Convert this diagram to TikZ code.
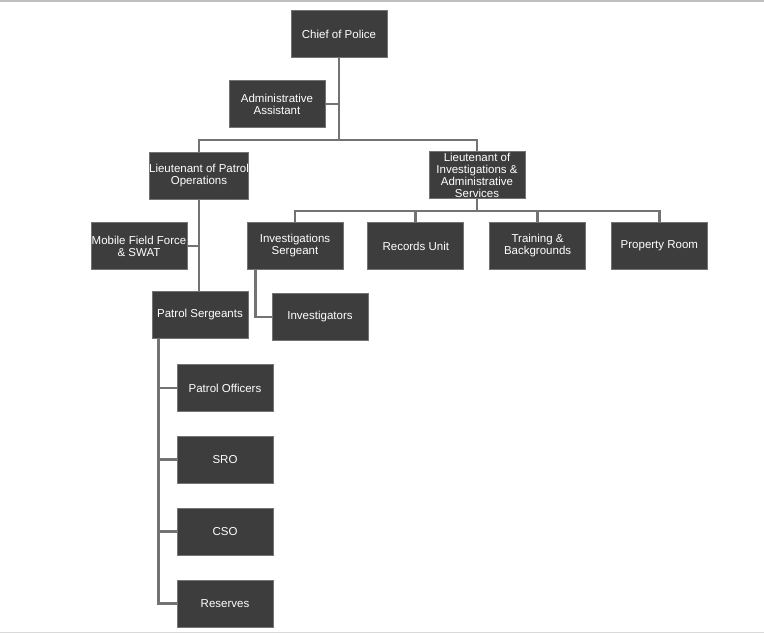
\documentclass[tikz,border=0pt]{standalone}
\usepackage{fontspec}
\setmainfont{Liberation Sans}
\usetikzlibrary{positioning}

\begin{document}
\begin{tikzpicture}[x=1pt, y=-1pt,
    every node/.style={font=\fontsize{11.5}{12}\selectfont},
    box/.style={draw=black!55, line width=0.8pt, fill=black!76, text=white,
                minimum width=96pt, minimum height=47pt, inner sep=0pt,
                align=center},
    link/.style={draw=black!55, line width=2.8pt}
  ]
  \useasboundingbox (0,0) rectangle (764,634);
  \draw[black!25, line width=1.5pt] (0,1) -- (764,1);
  \draw[black!15, line width=1pt] (0,632.5) -- (764,632.5);

  \node[box] (chief) at (339,34)  {Chief of Police};
  \node[box] (admin) at (277,104) {Administrative\\Assistant};
  \node[box] (ltp)   at (199,176) {Lieutenant of Patrol\\Operations};
  \node[box] (lti)   at (477,175) {Lieutenant of\\Investigations \&\\Administrative\\Services};
  \node[box] (mff)   at (139,246) {Mobile Field Force\\\& SWAT};
  \node[box] (isg)   at (295,246) {Investigations\\Sergeant};
  \node[box, right=24pt of isg] (rec)  {Records Unit};
  \node[box, right=25pt of rec] (trn)  {Training \&\\Backgrounds};
  \node[box, right=25pt of trn] (prop) {Property Room};
  \node[box] (psg)   at (200,315) {Patrol Sergeants};
  \node[box] (inv)   at (320,317) {Investigators};
  \node[box] (po)    at (225,388) {Patrol Officers};
  \node[box, below=24pt of po]  (sro) {SRO};
  \node[box, below=24pt of sro] (cso) {CSO};
  \node[box, below=24pt of cso] (res) {Reserves};

  % chief and lieutenants
  \coordinate (split) at (339,140);
  \draw[link] (chief.south) -- (split);
  \draw[link] (admin.east) -- (admin.east -| split);
  \draw[link] (ltp.north) |- (split) -| (lti.north);

  % investigations side
  \coordinate (ibar) at ([yshift=-12pt]lti.south);
  \draw[link] (lti.south) -- (ibar);
  \draw[link] (isg.north) |- (ibar) -| (prop.north);
  \draw[link] (rec.north) -- (rec.north |- ibar);
  \draw[link] (trn.north) -- (trn.north |- ibar);
  \draw[link] ([xshift=9pt]isg.south west) |- (inv.west);

  % patrol side
  \draw[link] (ltp.south) -- (ltp.south |- psg.north);
  \draw[link] (mff.east) -- (mff.east -| ltp.south);
  \coordinate (spine) at ([xshift=7pt]psg.south west);
  \draw[link] (spine) |- (res.west);
  \foreach \n in {po,sro,cso}
    \draw[link] (\n.west) -- (\n.west -| spine);
\end{tikzpicture}
\end{document}
